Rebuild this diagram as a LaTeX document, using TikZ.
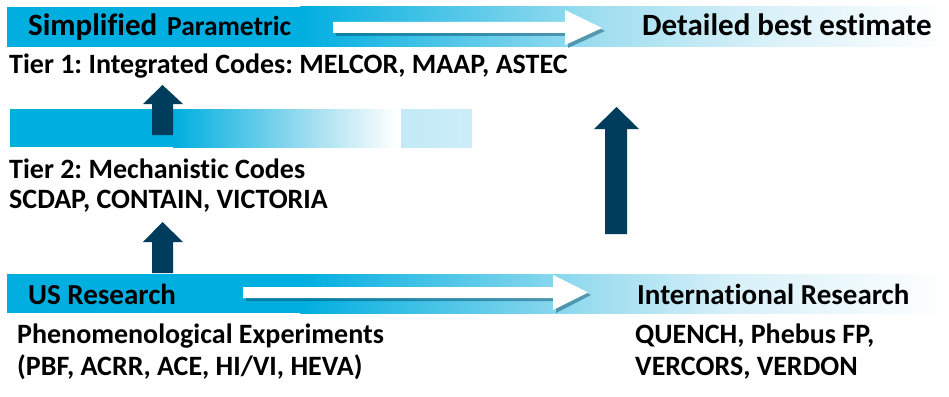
\documentclass[tikz,border=0pt]{standalone}
\usepackage{fontspec}
\setmainfont{Carlito}[Ligatures={NoCommon,NoRequired,NoContextual}]
\frenchspacing
\definecolor{cy}{RGB}{0,174,224}
\definecolor{lt}{RGB}{160,222,240}
\definecolor{lt2}{RGB}{215,240,248}
\definecolor{lt3}{RGB}{195,234,247}
\definecolor{navy}{RGB}{0,61,92}
\definecolor{shad}{RGB}{0,70,100}
\newcommand\fsz[1]{\fontsize{#1}{#1}\selectfont\bfseries}
\tikzset{
  lbl/.style={anchor=base west, inner sep=0pt, text=black},
  darrow/.style={fill=navy, draw=none},
  warrow/.style={fill=white, draw=none},
  wshadow/.style={fill=shad, draw=none, opacity=0.45},
}
\begin{document}
\begin{tikzpicture}[x=1pt,y=-1pt]
\useasboundingbox (0,0) rectangle (949,396);
\fill[white] (0,0) rectangle (949,396);
% ---- top bar
\fill[cy] (7,7) rectangle (300.5,47);
\shade[left color=cy, right color=lt] (300,7) rectangle (600.5,47);
\shade[left color=lt, right color=lt2] (600,7) rectangle (760.5,47);
\shade[left color=lt2, right color=white] (760,7) rectangle (949,47);
% ---- middle bar
\fill[cy] (10,109) rectangle (173.5,147);
\shade[left color=cy, right color=lt] (173,109) rectangle (310.5,147);
\shade[left color=lt, right color=white] (310,109) rectangle (397,147);
\shade[left color=lt3, right color=lt3!85!white] (401,109) rectangle (472,147);
% ---- bottom bar
\fill[cy] (7,274) rectangle (300.5,313);
\shade[left color=cy, right color=lt] (300,274) rectangle (600.5,313);
\shade[left color=lt, right color=lt2] (600,274) rectangle (730.5,313);
\shade[left color=lt2, right color=white] (730,274) rectangle (949,313);
% ---- white arrows with shadow
\fill[wshadow] (336,25) -- (568,25) -- (568,13) -- (605,31) -- (568,48) -- (568,36) -- (336,36) -- cycle;
\fill[warrow] (333,22) -- (565,22) -- (565,10) -- (602,28) -- (565,45) -- (565,33) -- (333,33) -- cycle;
\fill[wshadow] (246,290) -- (556,290) -- (556,278) -- (591,295) -- (556,313) -- (556,301) -- (246,301) -- cycle;
\fill[warrow] (243,287) -- (553,287) -- (553,275) -- (588,292.5) -- (553,310) -- (553,298) -- (243,298) -- cycle;
% ---- dark arrows
\fill[darrow] (152,135) -- (152,104) -- (143,104) -- (162.5,85) -- (183,104) -- (173,104) -- (173,135) -- cycle;
\fill[darrow] (152,273) -- (152,242) -- (143,242) -- (162.5,222) -- (183,242) -- (173,242) -- (173,273) -- cycle;
\fill[darrow] (605,234) -- (605,129) -- (594,129) -- (616.5,107) -- (639,129) -- (627,129) -- (627,234) -- cycle;
% ---- texts
\node[lbl] (simp) at (28,36) {\fsz{31}Simplified};
\node[lbl] (param) at (167,36) {\fsz{27.5}Parametric};
\node[lbl] (det) at (642,36) {\fsz{31}Detailed best estimate};
\node[lbl] (tier1) at (9,74) {\fsz{28}Tier 1: Integrated Codes: MELCOR, MAAP, ASTEC};
\node[lbl] (tier2) at (9,178) {\fsz{28}Tier 2: Mechanistic Codes};
\node[lbl] (codes2) at (9,208) {\fsz{28}SCDAP, CONTAIN, VICTORIA};
\node[lbl] (us) at (28,304) {\fsz{29}US Research};
\node[lbl] (intl) at (637,304) {\fsz{29}International Research};
\node[lbl] (phen) at (17,343) {\fsz{28}Phenomenological Experiments};
\node[lbl] (pbf) at (17,375) {\fsz{28}(PBF, ACRR, ACE, HI/VI, HEVA)};
\node[lbl] (quench) at (635,343) {\fsz{28}QUENCH, Phebus FP,};
\node[lbl] (verc) at (635,375) {\fsz{28}VERCORS, VERDON};
\end{tikzpicture}
\end{document}
